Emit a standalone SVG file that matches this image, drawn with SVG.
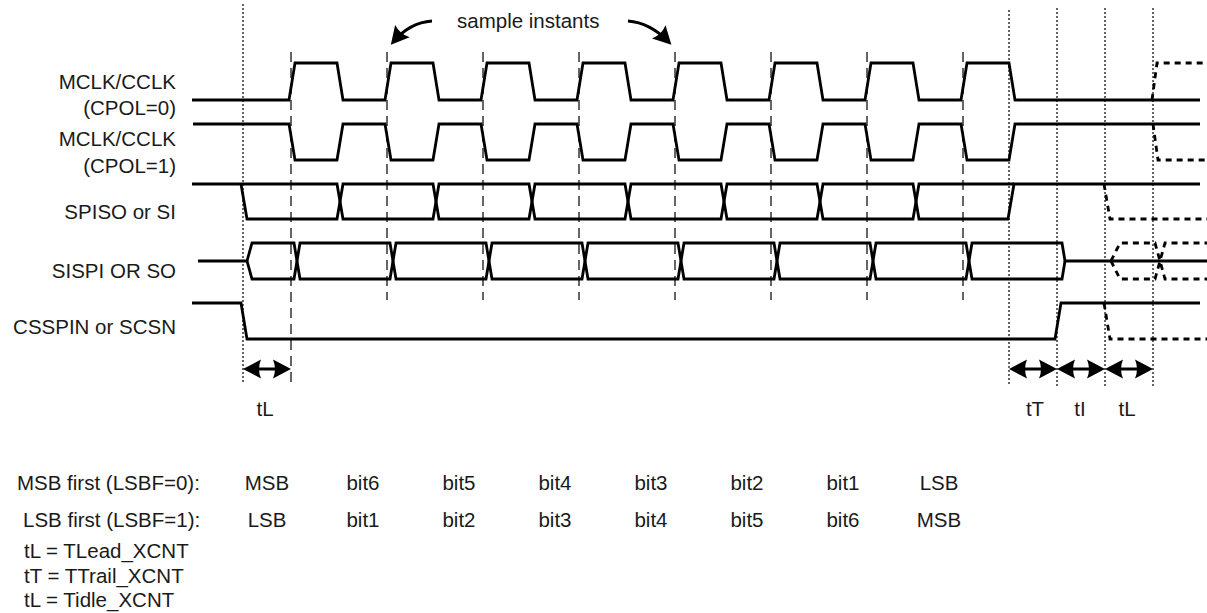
<svg xmlns="http://www.w3.org/2000/svg" width="1207" height="613" viewBox="0 0 1207 613">
<style>
text{font-family:"Liberation Sans",Arial,sans-serif;font-size:20.5px;fill:#1a1a1a}
.r{text-anchor:end}
.m{text-anchor:middle}
.sig{fill:none;stroke:#000;stroke-width:2.8;stroke-linejoin:miter}
.ext{fill:none;stroke:#000;stroke-width:2.8;stroke-dasharray:6,5}
.smp{fill:none;stroke:#000;stroke-width:1.2;stroke-dasharray:10,6}
.dot{fill:none;stroke:#000;stroke-width:1.2;stroke-dasharray:2,2}
.arr{fill:none;stroke:#000;stroke-width:3;marker-start:url(#ah);marker-end:url(#ah)}
.cur{fill:none;stroke:#000;stroke-width:3;marker-end:url(#ah)}
</style>
<defs>
<marker id="ah" viewBox="0 0 18 20" refX="14" refY="10" markerWidth="18" markerHeight="20" markerUnits="userSpaceOnUse" orient="auto-start-reverse">
<path d="M18,10 L0,0.5 Q4,10 0,19.5 Z" fill="#000"/>
</marker>
</defs>
<g id="gridlines">
<g id="sample-lines">
<path class="smp" d="M291,52 V383 M387,52 V300 M483,52 V300 M579,52 V300 M675,52 V300 M771,52 V300 M867,52 V300 M963,52 V300"/>
</g>
<g id="phase-lines">
<path class="dot" d="M243,4 V384 M1009,10 V386 M1057,8 V388 M1105,8 V388 M1153,8 V388"/>
</g>
</g>
<g id="sample-instants">
<text x="457" y="28">sample instants</text>
<path class="cur" d="M432,21 C418,22 405,28 393.4,41.8"/>
<path class="cur" d="M628,21 C642,22 655,28 668.6,41.8"/>
</g>
<g id="labels">
<text class="r" x="176" y="89">MCLK/CCLK</text>
<text class="r" x="176" y="115">(CPOL=0)</text>
<text class="r" x="176" y="146">MCLK/CCLK</text>
<text class="r" x="176" y="173">(CPOL=1)</text>
<text class="r" x="176" y="219">SPISO or SI</text>
<text class="r" x="176" y="278">SISPI OR SO</text>
<text class="r" x="176" y="334">CSSPIN or SCSN</text>
</g>
<g id="clk-cpol0">
<path class="sig" d="M192,100 H289 L295,63 H337 L343,100 H385 L391,63 H433 L439,100 H481 L487,63 H529 L535,100 H577 L583,63 H625 L631,100 H673 L679,63 H721 L727,100 H769 L775,63 H817 L823,100 H865 L871,63 H913 L919,100 H961 L967,63 H1009 L1015,100 H1200"/>
<path class="ext" d="M1152,100 L1157,63 H1207"/>
</g>
<g id="clk-cpol1">
<path class="sig" d="M193,124 H289 L295,160 H337 L343,124 H385 L391,160 H433 L439,124 H481 L487,160 H529 L535,124 H577 L583,160 H625 L631,124 H673 L679,160 H721 L727,124 H769 L775,160 H817 L823,124 H865 L871,160 H913 L919,124 H961 L967,160 H1009 L1015,124 H1200"/>
<path class="ext" d="M1153,124 L1158,160 H1207"/>
</g>
<g id="spiso">
<path class="sig" d="M192,184 H337 L343,219 H433 L439,184 H529 L535,219 H625 L631,184 H721 L727,219 H817 L823,184 H913 L919,219 H1008 L1014,184 H1200"/>
<path class="sig" d="M241,184 L247,219 H337 L343,184 H433 L439,219 H529 L535,184 H625 L631,219 H721 L727,184 H817 L823,219 H913 L919,184 H1014"/>
<path class="ext" d="M1104,184 L1110,219 H1207"/>
</g>
<g id="sispi">
<path class="sig" d="M247,261 L252,243 H294 L300,279 H390 L396,243 H486 L492,279 H582 L588,243 H678 L684,279 H774 L780,243 H870 L876,279 H966 L972,243 H1062 L1065,261 H1207"/>
<path class="sig" d="M198,261 H247 L252,279 H294 L300,243 H390 L396,279 H486 L492,243 H582 L588,279 H678 L684,243 H774 L780,279 H870 L876,243 H966 L972,279 H1062 L1065,261"/>
<path class="ext" d="M1111,261 L1120,243 H1155 L1165,279 H1207 M1111,261 L1120,279 H1155 L1165,243 H1207"/>
</g>
<g id="csspin">
<path class="sig" d="M192,303 H241 L247,339 H1055 L1061,303 H1200"/>
<path class="ext" d="M1104,303 L1110,339 H1207"/>
</g>
<g id="timing-arrows">
<path class="arr" d="M247,369 H287"/>
<path class="arr" d="M1013,369 H1053"/>
<path class="arr" d="M1061,369 H1101"/>
<path class="arr" d="M1109,369 H1149"/>
<text class="m" x="265" y="416">tL</text>
<text class="m" x="1035" y="416">tT</text>
<text class="m" x="1080" y="416">tI</text>
<text class="m" x="1127" y="416">tL</text>
</g>
<g id="bit-order">
<text x="17" y="490">MSB first (LSBF=0):</text>
<text class="m" x="267" y="490">MSB</text>
<text class="m" x="363" y="490">bit6</text>
<text class="m" x="459" y="490">bit5</text>
<text class="m" x="555" y="490">bit4</text>
<text class="m" x="651" y="490">bit3</text>
<text class="m" x="747" y="490">bit2</text>
<text class="m" x="843" y="490">bit1</text>
<text class="m" x="939" y="490">LSB</text>
<text x="23" y="527">LSB first (LSBF=1):</text>
<text class="m" x="267" y="527">LSB</text>
<text class="m" x="363" y="527">bit1</text>
<text class="m" x="459" y="527">bit2</text>
<text class="m" x="555" y="527">bit3</text>
<text class="m" x="651" y="527">bit4</text>
<text class="m" x="747" y="527">bit5</text>
<text class="m" x="843" y="527">bit6</text>
<text class="m" x="939" y="527">MSB</text>
</g>
<g id="legend">
<text x="24" y="558">tL = TLead_XCNT</text>
<text x="24" y="583">tT = TTrail_XCNT</text>
<text x="24" y="607">tL = Tidle_XCNT</text>
</g>
</svg>
